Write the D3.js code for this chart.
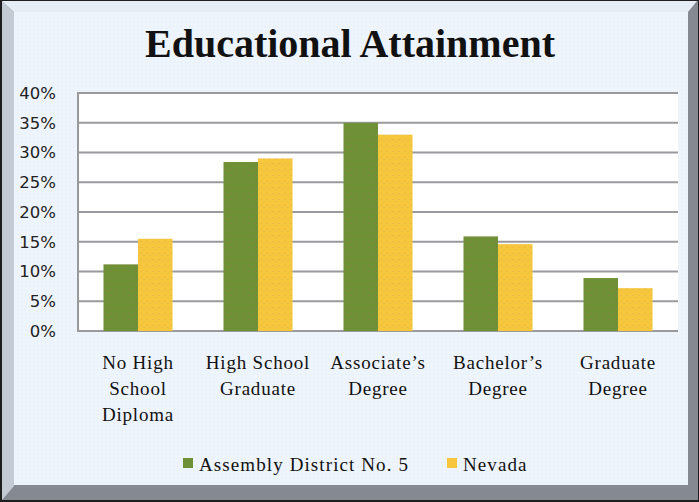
<!DOCTYPE html>
<html><head><meta charset="utf-8">
<script src="https://cdn.jsdelivr.net/npm/d3@7"></script>
<style>html,body{margin:0;padding:0;background:#fff;}svg{display:block;}</style>
</head><body>
<svg id="c" width="699" height="502"></svg>
<script>
const categories = [["No High","School","Diploma"],["High School","Graduate"],["Associate’s","Degree"],["Bachelor’s","Degree"],["Graduate","Degree"]];
const seriesNames = ["Assembly District No. 5","Nevada"];
const district = [0.112, 0.284, 0.350, 0.159, 0.089];
const nevada = [0.155, 0.290, 0.330, 0.146, 0.072];
const yTicks = [0,0.05,0.10,0.15,0.20,0.25,0.30,0.35,0.40];
const colors = ["#6e9136","#f6c63c"];
const title = "Educational Attainment";

const svg = d3.select("#c");
const W=699,H=502;
const serif = "'Liberation Serif','Times New Roman',serif";
const defs = svg.append("defs");
function speckle(id, base, dot1, dot2){
  const p = defs.append("pattern").attr("id",id).attr("width",6).attr("height",6).attr("patternUnits","userSpaceOnUse");
  p.append("rect").attr("width",6).attr("height",6).attr("fill",base);
  p.append("rect").attr("x",1).attr("y",1).attr("width",1).attr("height",1).attr("fill",dot1);
  p.append("rect").attr("x",4).attr("y",3).attr("width",1).attr("height",1).attr("fill",dot2);
}
speckle("pg","#6e9136","#8a7a4a","#7f8a50");
speckle("py","#f6c63c","#e0ae50","#d8b860");
const bgp = defs.append("pattern").attr("id","bg").attr("width",4).attr("height",4).attr("patternUnits","userSpaceOnUse");
bgp.append("rect").attr("width",4).attr("height",4).attr("fill","#eef4fc");
bgp.append("rect").attr("x",1).attr("y",2).attr("width",1).attr("height",1).attr("fill","#e4ecf6");

// frame
svg.append("rect").attr("x",0).attr("y",0).attr("width",W).attr("height",H).attr("fill","#1e1e1e");
svg.append("rect").attr("x",2).attr("y",1).attr("width",W-3).attr("height",H-3).attr("fill","#858a92");
svg.append("polygon").attr("points",`2,1 14,12 14,486 2,500`).attr("fill","#c3cad4");
svg.append("polygon").attr("points",`2,1 697,1 688,12 14,12`).attr("fill","#e6edf5");
svg.append("rect").attr("x",14).attr("y",12).attr("width",674).attr("height",473).attr("fill","url(#bg)");

// title
svg.append("text").attr("x",350).attr("y",57).attr("text-anchor","middle")
  .attr("font-family",serif).attr("font-weight","bold")
  .attr("font-size",40).attr("fill","#111").text(title);

const x0 = 78, x1 = 678, yBot = 331, yTop = 93;
const y = d3.scaleLinear().domain([0,0.4]).range([yBot,yTop]);
const x = d3.scaleBand().domain(d3.range(categories.length)).range([x0,x1]).paddingInner(0.425).paddingOuter(0.2125);
const xs = d3.scaleBand().domain(seriesNames).range([0,x.bandwidth()]).padding(0);

svg.append("rect").attr("x",x0).attr("y",yTop).attr("width",x1-x0).attr("height",yBot-yTop).attr("fill","#fff");
svg.append("g").selectAll("line").data(yTicks).join("line")
  .attr("x1",x0).attr("x2",x1).attr("y1",d=>y(d)).attr("y2",d=>y(d))
  .attr("stroke","#9a9a9e").attr("stroke-width",2);
svg.append("line").attr("x1",x0).attr("x2",x0).attr("y1",yTop-1).attr("y2",yBot+1).attr("stroke","#9a9a9e").attr("stroke-width",2);

const yAxis = d3.axisLeft(y).tickValues(yTicks).tickFormat(d3.format(".0%")).tickSize(0).tickPadding(22);
const ga = svg.append("g").attr("transform",`translate(${x0},0)`).call(yAxis);
ga.select(".domain").remove();
ga.selectAll("text").attr("font-family","'DejaVu Sans',Verdana,sans-serif").attr("font-size",16.5).attr("fill","#222");

const data = categories.map((c,i)=>({i, vals:[district[i], nevada[i]]}));
const g = svg.append("g");
g.selectAll("g").data(data).join("g").attr("transform",d=>`translate(${x(d.i)},0)`)
  .selectAll("rect").data(d=>d.vals.map((v,k)=>({k,v}))).join("rect")
  .attr("x",d=>xs(seriesNames[d.k])).attr("width",xs.bandwidth())
  .attr("y",d=>y(d.v)).attr("height",d=>yBot-y(d.v))
  .attr("fill",d=>d.k===0?"url(#pg)":"url(#py)");

const xl = svg.append("g");
categories.forEach((lines,i)=>{
  const t = xl.append("text").attr("text-anchor","middle")
    .attr("font-family",serif).attr("font-size",19).attr("letter-spacing",0.8).attr("fill","#111");
  lines.forEach((ln,j)=>{
    t.append("tspan").attr("x",x(i)+x.bandwidth()/2).attr("y",369+j*26).text(ln);
  });
});

const leg = [{name:seriesNames[0],c:colors[0],x:183},{name:seriesNames[1],c:colors[1],x:447}];
leg.forEach(l=>{
  svg.append("rect").attr("x",l.x).attr("y",458).attr("width",10).attr("height",10).attr("fill",l.c);
  svg.append("text").attr("x",l.x+16).attr("y",471).attr("font-family",serif)
    .attr("font-size",19).attr("letter-spacing",1.1).attr("fill","#111").text(l.name);
});
</script>
</body></html>
